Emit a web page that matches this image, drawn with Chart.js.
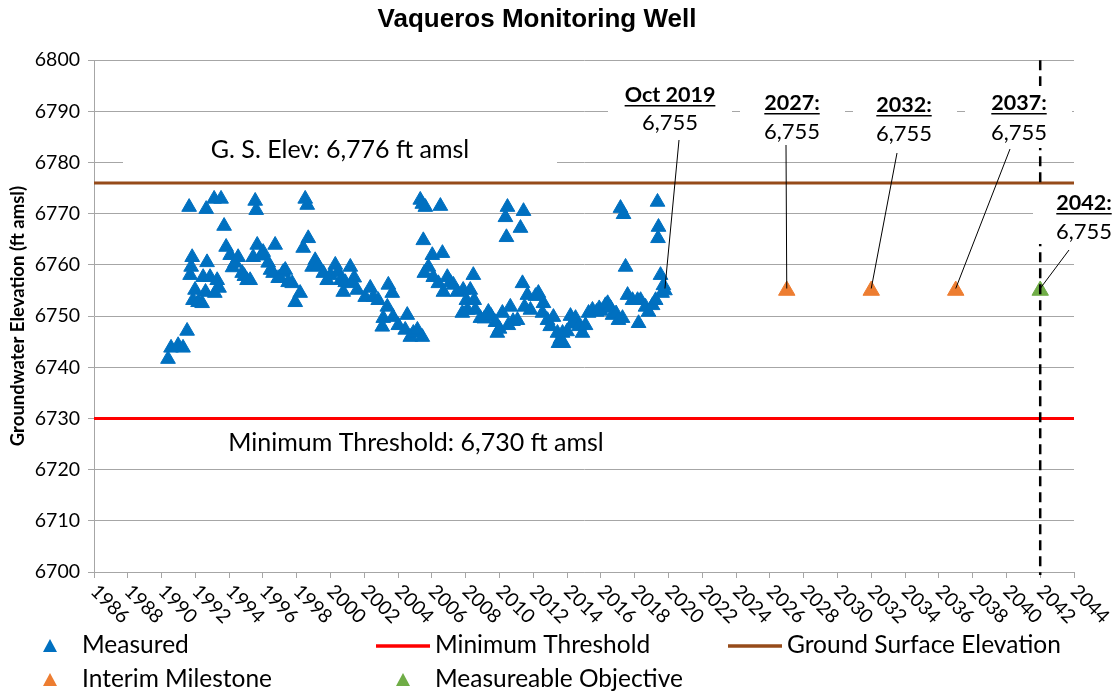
<!DOCTYPE html>
<html>
<head>
<meta charset="utf-8">
<title>Vaqueros Monitoring Well</title>
<script src="https://cdn.jsdelivr.net/npm/chart.js@4.4.1/dist/chart.umd.min.js"></script>
<style>
  html, body { margin: 0; padding: 0; background: #fff; }
</style>
</head>
<body>
<canvas id="wellChart" width="1116" height="694"></canvas>
<script>
// measured groundwater elevations (decimal year, ft amsl)
var measuredYears = [
  1990.38, 1990.56, 1990.98, 1991.27, 1991.51, 1991.63, 1991.69, 1991.75, 1991.81, 1991.86,
  1991.98, 1992.16, 1992.40, 1992.46, 1992.60, 1992.64, 1992.69, 1992.87, 1993.11, 1993.15,
  1993.29, 1993.40, 1993.52, 1993.70, 1993.82, 1994.06, 1994.20, 1994.35, 1994.53, 1994.77,
  1994.90, 1995.06, 1995.24, 1995.42, 1995.54, 1995.60, 1995.66, 1995.90, 1996.01, 1996.31,
  1996.45, 1996.60, 1996.72, 1996.90, 1997.00, 1997.20, 1997.32, 1997.49, 1997.73, 1997.91,
  1998.20, 1998.38, 1998.50, 1998.62, 1998.68, 1998.91, 1999.09, 1999.27, 1999.57, 1999.80,
  2000.00, 2000.28, 2000.45, 2000.60, 2000.75, 2000.87, 2001.17, 2001.28, 2001.40, 2001.58,
  2002.05, 2002.35, 2002.53, 2002.82, 2003.06, 2003.12, 2003.36, 2003.42, 2003.65, 2003.70,
  2004.01, 2004.42, 2004.54, 2004.72, 2004.90, 2005.14, 2005.31, 2005.43, 2005.43, 2005.49,
  2005.55, 2005.61, 2005.79, 2006.02, 2006.08, 2006.38, 2006.50, 2006.62, 2006.68, 2006.91,
  2007.09, 2007.27, 2007.50, 2007.80, 2007.85, 2008.04, 2008.10, 2008.27, 2008.45, 2008.50,
  2008.57, 2008.87, 2009.10, 2009.34, 2009.50, 2009.76, 2009.87, 2010.00, 2010.17, 2010.35,
  2010.41, 2010.47, 2010.52, 2010.64, 2010.80, 2011.06, 2011.24, 2011.36, 2011.42, 2011.48,
  2011.65, 2011.83, 2012.13, 2012.30, 2012.54, 2012.60, 2012.84, 2013.00, 2013.19, 2013.43,
  2013.49, 2013.60, 2013.73, 2013.78, 2014.00, 2014.20, 2014.30, 2014.50, 2014.70, 2014.91,
  2015.09, 2015.27, 2015.50, 2015.74, 2015.90, 2016.00, 2016.27, 2016.40, 2016.57, 2016.69,
  2016.90, 2017.04, 2017.16, 2017.28, 2017.34, 2017.46, 2017.58, 2017.87, 2018.17, 2018.23,
  2018.35, 2018.64, 2018.82, 2019.06, 2019.24, 2019.35, 2019.38, 2019.41, 2019.53, 2019.62,
  2019.70, 2019.79
];
var measuredElev = [
  6741.6, 6743.8, 6744.3, 6743.8, 6747.1, 6771.3, 6758.0, 6759.6, 6761.5, 6753.1,
  6755.1, 6752.7, 6752.5, 6757.6, 6754.7, 6770.9, 6760.5, 6757.6, 6772.9, 6754.5,
  6757.0, 6755.5, 6772.9, 6767.6, 6763.5, 6761.9, 6759.5, 6760.4, 6761.5, 6758.4,
  6757.8, 6757.0, 6757.0, 6761.5, 6772.5, 6770.7, 6763.9, 6761.8, 6762.5, 6760.4,
  6759.0, 6758.4, 6763.9, 6757.4, 6757.5, 6758.6, 6759.0, 6756.6, 6756.4, 6752.7,
  6754.5, 6763.3, 6772.9, 6771.7, 6765.2, 6759.6, 6760.9, 6759.8, 6758.4, 6757.0,
  6758.0, 6760.0, 6758.6, 6757.0, 6754.7, 6756.6, 6759.6, 6756.4, 6757.5, 6755.1,
  6753.7, 6755.5, 6753.7, 6753.1, 6747.9, 6749.6, 6751.8, 6756.1, 6754.5, 6749.8,
  6748.2, 6747.3, 6750.2, 6745.9, 6746.7, 6747.3, 6772.7, 6771.9, 6745.9, 6764.8,
  6758.4, 6771.3, 6759.6, 6761.9, 6757.6, 6756.4, 6771.5, 6762.3, 6754.7, 6757.6,
  6756.6, 6756.1, 6754.7, 6750.6, 6755.1, 6753.1, 6751.2, 6755.1, 6758.0, 6753.1,
  6751.2, 6749.6, 6749.5, 6750.8, 6750.0, 6748.8, 6746.7, 6747.5, 6750.6, 6769.3,
  6765.4, 6771.3, 6748.2, 6751.8, 6749.0, 6749.2, 6767.2, 6756.4, 6770.5, 6751.8,
  6754.1, 6751.2, 6753.9, 6754.5, 6750.6, 6752.5, 6749.2, 6748.0, 6749.8, 6746.7,
  6744.7, 6745.5, 6746.7, 6744.7, 6747.0, 6750.0, 6748.5, 6749.6, 6748.0, 6746.7,
  6748.2, 6750.6, 6751.2, 6750.8, 6751.5, 6751.0, 6752.1, 6752.5, 6751.6, 6750.2,
  6750.5, 6749.2, 6771.1, 6749.6, 6769.9, 6759.6, 6754.1, 6753.1, 6753.1, 6748.6,
  6753.1, 6751.8, 6750.8, 6752.1, 6753.1, 6772.3, 6765.2, 6767.4, 6758.0, 6754.5,
  6756.0, 6755.0
];

var milestoneYears = [2027, 2032, 2037];
var milestoneElev = [6755, 6755, 6755];
var objectiveYears = [2042];
var objectiveElev = [6755];

var minThreshold = 6730;
var groundSurface = 6776;
var axisYears = [1986, 2044];

var calloutHeads = ['Oct 2019', '2027:', '2032:', '2037:', '2042:'];

var FONT = 'Lato, "Open Sans", sans-serif';
var BLUE = '#0070C0', ORANGE = '#ED7D31', GREEN = '#70AD47';
var RED = '#FF0000', BROWN = '#964B1A', GRID = '#A6A6A6';

function pairs(xs, ys) {
  return xs.map(function (x, i) { return { x: x, y: ys[i] }; });
}
function flat(v) {
  return axisYears.map(function (x) { return { x: x, y: v }; });
}
function fmt(v) {
  return v.toLocaleString('en-US');
}

// boxes/labels around the annotated points, in canvas pixels
var calloutLayout = [
  { box: [608, 78, 124, 62], cx: 670, headY: 95, valY: 123, from: [679, 140] },
  { box: [740, 86, 105, 60], cx: 792, headY: 103, valY: 132, from: [786, 145] },
  { box: [853, 88, 104, 62], cx: 904, headY: 105, valY: 134, from: [897, 153] },
  { box: [965, 86, 107, 62], cx: 1019, headY: 103, valY: 133, from: [1010, 149] },
  { box: [1033, 188, 83, 56], cx: 1084, headY: 203, valY: 232, from: [1069, 250] }
];

function underlined(ctx, text, x, y) {
  ctx.fillText(text, x, y);
  var w = ctx.measureText(text).width;
  ctx.fillRect(x - w / 2, y + 10, w, 1.5);
}

var wellDecor = {
  id: 'wellDecor',
  afterDatasetsDraw: function (chart) {
    var ctx = chart.ctx, xs = chart.scales.x, ys = chart.scales.y;
    var area = chart.chartArea;

    // dashed line at the objective date
    var ox = xs.getPixelForValue(objectiveYears[0]);
    ctx.save();
    ctx.strokeStyle = '#000';
    ctx.lineWidth = 2.5;
    ctx.setLineDash([10, 6]);
    ctx.beginPath();
    ctx.moveTo(ox, area.top);
    ctx.lineTo(ox, area.bottom + 3);
    ctx.stroke();
    ctx.restore();

    // reference line labels
    ctx.save();
    ctx.fillStyle = '#fff';
    ctx.fillRect(123, 128, 434, 44);
    ctx.fillStyle = '#000';
    ctx.font = '25px ' + FONT;
    ctx.textAlign = 'center';
    ctx.textBaseline = 'middle';
    ctx.fillText('G. S. Elev: ' + fmt(groundSurface) + ' ft amsl', 340, 150);
    ctx.fillText('Minimum Threshold: ' + fmt(minThreshold) + ' ft amsl', 416, 443);
    ctx.restore();

    // callouts
    var last = measuredYears.length - 1;
    var targets = [[measuredYears[last], measuredElev[last]]];
    milestoneYears.forEach(function (yr, i) { targets.push([yr, milestoneElev[i]]); });
    objectiveYears.forEach(function (yr, i) { targets.push([yr, objectiveElev[i]]); });

    ctx.save();
    targets.forEach(function (t, i) {
      var L = calloutLayout[i];
      var px = xs.getPixelForValue(t[0]), py = ys.getPixelForValue(t[1]);
      ctx.fillStyle = '#fff';
      ctx.fillRect(L.box[0], L.box[1], L.box[2], L.box[3]);
      ctx.strokeStyle = '#000';
      ctx.lineWidth = 1;
      ctx.beginPath();
      ctx.moveTo(L.from[0], L.from[1]);
      ctx.lineTo(px, py - 2);
      ctx.stroke();
      ctx.fillStyle = '#000';
      ctx.textAlign = 'center';
      ctx.textBaseline = 'middle';
      ctx.font = 'bold 21.5px ' + FONT;
      underlined(ctx, calloutHeads[i], L.cx, L.headY);
      ctx.font = '22px ' + FONT;
      ctx.fillText(fmt(t[1]), L.cx, L.valY);
    });
    ctx.restore();
  },
  afterDraw: function (chart) {
    var ctx = chart.ctx, xs = chart.scales.x;

    // slanted year labels
    ctx.save();
    ctx.fillStyle = '#000';
    ctx.font = '19.5px ' + FONT;
    ctx.textAlign = 'left';
    ctx.textBaseline = 'middle';
    xs.ticks.forEach(function (t) {
      var px = xs.getPixelForValue(t.value);
      ctx.save();
      ctx.translate(px, 588);
      ctx.rotate(Math.PI / 4);
      ctx.fillText(String(t.value), 0, 0);
      ctx.restore();
    });
    ctx.restore();

    // legend, three columns by two rows
    var ds = chart.data.datasets;
    var slots = [
      { i: 0, sym: 50, tx: 82, y: 645 },
      { i: 1, sym: 403, tx: 435, y: 645 },
      { i: 2, sym: 755, tx: 787, y: 645 },
      { i: 3, sym: 50, tx: 82, y: 679 },
      { i: 4, sym: 403, tx: 435, y: 679 }
    ];
    ctx.save();
    ctx.font = '24.5px ' + FONT;
    ctx.textBaseline = 'middle';
    ctx.textAlign = 'left';
    slots.forEach(function (s) {
      var d = ds[s.i];
      var cy = s.y + 1;
      if (d.pointRadius > 0) {
        ctx.fillStyle = d.backgroundColor;
        ctx.beginPath();
        ctx.moveTo(s.sym, cy - 7);
        ctx.lineTo(s.sym + 7, cy + 6);
        ctx.lineTo(s.sym - 7, cy + 6);
        ctx.closePath();
        ctx.fill();
      } else {
        ctx.strokeStyle = d.borderColor;
        ctx.lineWidth = 3.5;
        ctx.beginPath();
        ctx.moveTo(s.sym - 27, cy);
        ctx.lineTo(s.sym + 27, cy);
        ctx.stroke();
      }
      ctx.fillStyle = '#000';
      ctx.fillText(d.label, s.tx, s.y);
    });
    ctx.restore();
  }
};

function markerSet(label, xs, ys, color, r) {
  return {
    label: label,
    data: pairs(xs, ys),
    pointStyle: 'triangle',
    pointRadius: r,
    borderWidth: 1,
    backgroundColor: color,
    borderColor: color,
    showLine: false
  };
}
function lineSet(label, v, color) {
  return {
    label: label,
    data: flat(v),
    borderColor: color,
    backgroundColor: color,
    borderWidth: 3,
    pointRadius: 0,
    showLine: true
  };
}

var ctx = document.getElementById('wellChart').getContext('2d');
new Chart(ctx, {
  type: 'scatter',
  data: {
    datasets: [
      markerSet('Measured', measuredYears, measuredElev, BLUE, 8.5),
      lineSet('Minimum Threshold', minThreshold, RED),
      lineSet('Ground Surface Elevation', groundSurface, BROWN),
      markerSet('Interim Milestone', milestoneYears, milestoneElev, ORANGE, 9.5),
      markerSet('Measureable Objective', objectiveYears, objectiveElev, GREEN, 9.5)
    ]
  },
  options: {
    responsive: false,
    animation: false,
    layout: { padding: { left: 0, right: 42, top: 0, bottom: 0 } },
    plugins: {
      legend: { display: false },
      tooltip: { enabled: false },
      title: {
        display: true,
        text: 'Vaqueros Monitoring Well',
        color: '#000',
        font: { family: '"Liberation Sans", Arial, sans-serif', size: 26, weight: 'bold' },
        padding: { top: 4, bottom: 25 }
      }
    },
    scales: {
      x: {
        type: 'linear',
        min: axisYears[0],
        max: axisYears[1],
        ticks: { stepSize: 2, display: false },
        grid: { drawOnChartArea: false, tickLength: 6, color: GRID },
        border: { color: GRID },
        afterFit: function (s) { s.height = 122; }
      },
      y: {
        min: 6700,
        max: 6800,
        ticks: {
          stepSize: 10,
          padding: 8,
          color: '#000',
          font: { family: FONT, size: 19.5 },
          callback: function (v) { return String(v); }
        },
        grid: { color: GRID, tickLength: 6 },
        border: { color: GRID },
        title: {
          display: true,
          text: 'Groundwater Elevation (ft amsl)',
          color: '#000',
          font: { family: FONT, size: 18.5, weight: 'bold' },
          padding: { top: 7, bottom: 0 }
        },
        afterFit: function (s) { s.width = 94; }
      }
    }
  },
  plugins: [wellDecor]
});
</script>
</body>
</html>
